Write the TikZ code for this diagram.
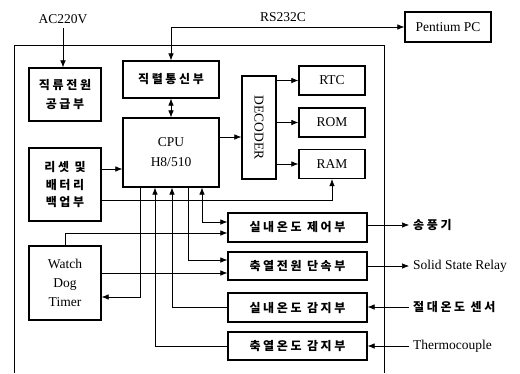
\documentclass[tikz,border=0pt]{standalone}
\usepackage{fontspec}
\usepackage{graphicx}
\setmainfont{Liberation Serif}
\newfontfamily\kr[LetterSpace=22]{Noto Sans CJK KR}
\usetikzlibrary{arrows.meta}

\begin{document}
\begin{tikzpicture}[x=1pt,y=-1pt,
  blk/.style={draw,line width=1.3pt,inner sep=1pt,align=center,font=\fontsize{13.5}{19}\selectfont},
  krblk/.style={blk,font=\kr\bfseries\fontsize{12}{19}\selectfont},
  lbl/.style={inner sep=4pt,font=\fontsize{13.5}{16}\selectfont},
  krlbl/.style={inner sep=4pt,font=\kr\bfseries\fontsize{12}{16}\selectfont},
  sig/.style={line width=0.6pt,-{Latex[length=7pt,width=5.5pt]}},
  bisig/.style={line width=0.6pt,{Latex[length=7pt,width=5.5pt]}-{Latex[length=7pt,width=5.5pt]}}]
\useasboundingbox (0,0) rectangle (520,373);
% outer frame
\draw[line width=0.7pt] (14,373) -- (14,45) -- (384,45) -- (384,373);
% left column
\node[krblk,minimum width=72pt,minimum height=53pt] (power) at (65,94.5) {직류전원\\공급부};
\node[krblk,minimum width=72pt,minimum height=73pt,font=\kr\bfseries\fontsize{12}{17.5}\selectfont] (reset) at (65,184.5) {리셋 및\\배터리\\백업부};
\node[blk,minimum width=72pt,minimum height=74pt] (wdt) at (65,283) {Watch\\Dog\\Timer};
% cpu column
\node[krblk,minimum width=96pt,minimum height=37pt] (serial) at (171,79.5) {직렬통신부};
\node[blk,minimum width=96pt,minimum height=69pt,font=\fontsize{13.5}{20}\selectfont] (cpu) at (171,152.5) {CPU\\H8/510};
\node[blk,minimum width=34pt,minimum height=103pt] (decoder) at (259,127.5) {\rotatebox{-90}{DECODER}};
\node[blk,minimum width=66pt,minimum height=29pt] (rtc) at (332,80.5) {RTC};
\node[blk,minimum width=66pt,minimum height=29pt] (rom) at (332,122.5) {ROM};
\node[blk,minimum width=66pt,minimum height=29pt] (ram) at (332,164) {RAM};
\node[blk,minimum width=86pt,minimum height=30pt] (pc) at (448,27) {Pentium PC};
% lower boxes
\node[krblk,minimum width=139pt,minimum height=29pt] (ctrla) at (297.5,227.5) {실내온도 제어부};
\node[krblk,minimum width=139pt,minimum height=28pt] (ctrlb) at (297.5,266) {축열전원 단속부};
\node[krblk,minimum width=139pt,minimum height=29pt] (sensa) at (297.5,307.5) {실내온도 감지부};
\node[krblk,minimum width=139pt,minimum height=28pt] (sensb) at (297.5,346) {축열온도 감지부};
% outside labels
\node[lbl] (ac) at (63,19) {AC220V};
\node[lbl] (rs) at (283,17) {RS232C};
\node[krlbl,anchor=west] (fan) at (409,225) {송풍기};
\node[lbl,anchor=west] (ssr) at (409,266) {Solid State Relay};
\node[krlbl,anchor=west] (sensor) at (409,307) {절대온도 센서};
\node[lbl,anchor=west] (tc) at (409,346) {Thermocouple};
% connections
\draw[sig] (ac.south) -- (ac.south |- power.north);
\draw[bisig] (serial.north) |- (pc.west);
\draw[bisig] (serial) -- (cpu);
\draw[sig] ([yshift=15.5pt]cpu.east) -- ([yshift=15.5pt]cpu.east -| decoder.west);
\draw[sig] (decoder.east |- rtc) -- (rtc.west);
\draw[sig] (decoder.east |- rom) -- (rom.west);
\draw[sig] (decoder.east |- ram) -- (ram.west);
\draw[sig] ([yshift=15.5pt]reset.east) -- ([yshift=15.5pt]reset.east -| cpu.west);
\draw[sig] ([yshift=-15.5pt]reset.east) -| (ram.south);
\draw[sig] ([xshift=-31pt]cpu.south) |- ([yshift=-14pt]wdt.east);
\draw[sig] (sensb.west) -| ([xshift=-16pt]cpu.south);
\draw[sig] (sensa.west) -| ([xshift=1pt]cpu.south);
\draw[sig] ([xshift=17pt]cpu.south) |- ([yshift=6pt]ctrlb.west);
\draw[bisig] ([xshift=31pt]cpu.south) |- ([yshift=5.5pt]ctrla.west);
\draw[sig] (wdt.north) |- ([yshift=-5.5pt]ctrla.west);
\draw[sig] ([yshift=-7pt]ctrlb.west -| wdt.east) -- ([yshift=-7pt]ctrlb.west);
\draw[sig] (fan.west -| ctrla.east) -- (fan.west);
\draw[sig] (ctrlb.east) -- (ssr.west);
\draw[sig] (sensor.west) -- (sensor.west -| sensa.east);
\draw[sig] (tc.west) -- (tc.west -| sensb.east);
\end{tikzpicture}
\end{document}
